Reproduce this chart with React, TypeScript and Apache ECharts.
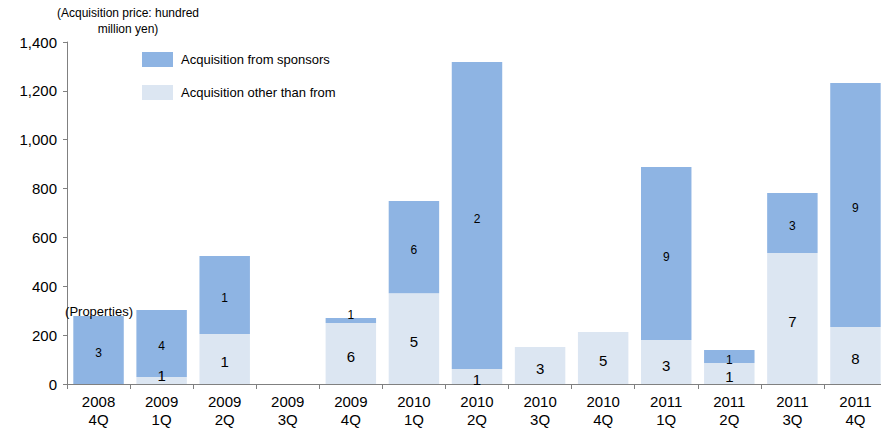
import React, { useEffect, useRef } from "react";
import * as echarts from "echarts";

const categories = [
  "2008\n4Q", "2009\n1Q", "2009\n2Q", "2009\n3Q", "2009\n4Q", "2010\n1Q", "2010\n2Q",
  "2010\n3Q", "2010\n4Q", "2011\n1Q", "2011\n2Q", "2011\n3Q", "2011\n4Q",
];
// acquisition price (hundred million yen)
const otherValues = [0, 29, 205, 0, 250, 372, 61, 151, 213, 180, 86, 536, 233];
const sponsorValues = [278, 274, 319, 0, 20, 377, 1257, 0, 0, 708, 53, 246, 999];
// number of properties
const otherCounts = [0, 1, 1, 0, 6, 5, 1, 3, 5, 3, 1, 7, 8];
const sponsorCounts = [3, 4, 1, 0, 1, 6, 2, 0, 0, 9, 1, 3, 9];
const seriesNames = ["Acquisition from sponsors", "Acquisition other than from"];

const FONT = 'Arial, "Liberation Sans", sans-serif';

const withSmallOffset = (vals: number[]) =>
  vals.map((v) => (v > 0 && v < 40 ? { value: v, label: { offset: [0, -5] } } : v));

export default function App() {
  const ref = useRef<HTMLDivElement>(null);
  useEffect(() => {
    if (!ref.current) return;
    const chart = echarts.init(ref.current, null, { renderer: "svg" });
    chart.setOption({
      animation: false,
      textStyle: { fontFamily: FONT },
      grid: { left: 67, right: -6, top: 42, bottom: 45, outerBoundsMode: "none", containLabel: false },
      legend: {
        orient: "vertical",
        left: 137,
        top: 47,
        itemWidth: 31,
        itemHeight: 15,
        itemGap: 18,
        icon: "rect",
        data: [seriesNames[0], seriesNames[1]],
        textStyle: { fontSize: 13, color: "#000", fontFamily: FONT, padding: [0, 0, 0, 3] },
      },
      graphic: [
        {
          type: "text",
          x: 128,
          y: 5,
          style: {
            text: "(Acquisition price: hundred\nmillion yen)",
            textAlign: "center",
            fontSize: 12,
            lineHeight: 16,
            fill: "#000",
            fontFamily: FONT,
          },
        },
        {
          type: "text",
          x: 99,
          y: 305,
          style: {
            text: "(Properties)",
            textAlign: "center",
            fontSize: 13,
            fill: "#000",
            fontFamily: FONT,
          },
          z: 100,
        },
      ],
      xAxis: {
        type: "category",
        data: categories,
        axisLine: { lineStyle: { color: "#808080", width: 1 } },
        axisTick: { show: true, length: 5, lineStyle: { color: "#808080" } },
        axisLabel: { fontSize: 15, color: "#000", lineHeight: 18, margin: 8, fontFamily: FONT },
      },
      yAxis: {
        type: "value",
        min: 0,
        max: 1400,
        interval: 200,
        splitLine: { show: false },
        axisLine: { show: true, lineStyle: { color: "#808080", width: 1 } },
        axisTick: { show: true, length: 4, lineStyle: { color: "#808080" } },
        axisLabel: { fontSize: 15, color: "#000", margin: 10, fontFamily: FONT },
      },
      series: [
        {
          name: seriesNames[1],
          type: "bar",
          stack: "total",
          barCategoryGap: "20%",
          itemStyle: { color: "#DCE6F2" },
          label: {
            show: true,
            position: "inside",
            offset: [0, 3],
            fontSize: 15,
            color: "#000",
            fontFamily: FONT,
            formatter: (p: any) => (otherCounts[p.dataIndex] ? String(otherCounts[p.dataIndex]) : ""),
          },
          data: withSmallOffset(otherValues),
        },
        {
          name: seriesNames[0],
          type: "bar",
          stack: "total",
          barCategoryGap: "20%",
          itemStyle: { color: "#8EB4E3" },
          label: {
            show: true,
            position: "inside",
            offset: [0, 3],
            fontSize: 12,
            color: "#000",
            fontFamily: FONT,
            formatter: (p: any) => (sponsorCounts[p.dataIndex] ? String(sponsorCounts[p.dataIndex]) : ""),
          },
          data: withSmallOffset(sponsorValues),
        },
      ],
    });
    return () => chart.dispose();
  }, []);
  return <div ref={ref} style={{ width: 881, height: 429, position: "absolute", left: 0, top: 0 }} />;
}
